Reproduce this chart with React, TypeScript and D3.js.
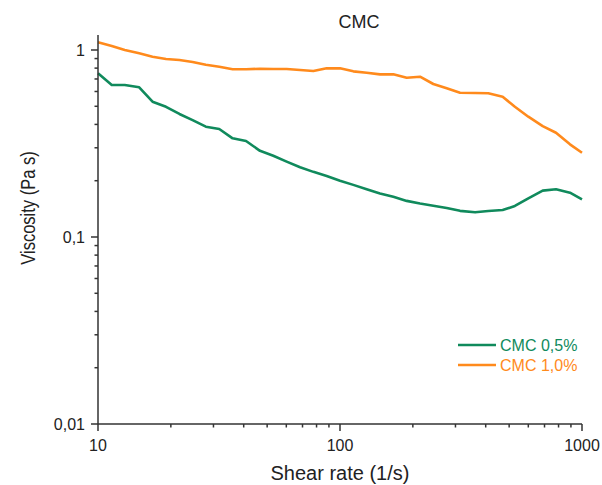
import React from "react";
import * as d3 from "d3";

const shearRate = [10, 11.4, 12.9, 14.8, 16.8, 19.1, 21.7, 24.6, 27.9, 31.7, 36.0, 40.9, 46.7, 53.0, 60.2, 68.4, 77.6, 88.1, 100, 113.5, 128.9, 146.3, 166.1, 188.6, 214.1, 243.0, 276.0, 313.3, 361.5, 410, 470, 528, 600, 688, 781, 892, 1000];

const cmc05 = [0.750, 0.650, 0.650, 0.632, 0.529, 0.497, 0.455, 0.422, 0.389, 0.378, 0.337, 0.326, 0.289, 0.272, 0.253, 0.236, 0.223, 0.212, 0.200, 0.190, 0.180, 0.171, 0.164, 0.156, 0.151, 0.147, 0.143, 0.138, 0.1355, 0.1377, 0.1394, 0.1465, 0.161, 0.177, 0.180, 0.1725, 0.159];

const cmc10 = [1.099, 1.05, 1.0, 0.960, 0.921, 0.895, 0.884, 0.863, 0.834, 0.814, 0.789, 0.789, 0.794, 0.791, 0.791, 0.782, 0.772, 0.798, 0.798, 0.769, 0.756, 0.741, 0.741, 0.711, 0.720, 0.658, 0.624, 0.591, 0.589, 0.587, 0.563, 0.497, 0.440, 0.392, 0.361, 0.313, 0.282];

const seriesNames = ["CMC 0,5%", "CMC 1,0%"];
const seriesColors = ["#108a5c", "#ff8a1c"];
const xMajorTicks = [10, 100, 1000];
const xTickLabels = ["10", "100", "1000"];
const yMajorTicks = [0.01, 0.1, 1];
const yTickLabels = ["0,01", "0,1", "1"];
const chartTitle = "CMC";
const xTitle = "Shear rate (1/s)";
const yTitle = "Viscosity (Pa s)";

const W = 602;
const H = 485;

export default function App() {
  const x = d3.scaleLog().domain([10, 1000]).range([98, 582]);
  const y = d3.scaleLog().domain([0.01, 1]).range([424, 50]);
  const yTop = 35;
  const axisColor = "#333";
  const font = "Arial, 'Liberation Sans', sans-serif";

  const xMinor: number[] = [];
  for (const d of [10, 100]) for (let k = 2; k <= 9; k++) xMinor.push(d * k);
  const yMinor: number[] = [];
  for (const d of [0.01, 0.1]) for (let k = 2; k <= 9; k++) yMinor.push(d * k);

  const line = d3
    .line<number>()
    .x((_, i) => x(shearRate[i]))
    .y((v) => y(v));

  const series = [cmc05, cmc10];

  return (
    <svg
      width={W}
      height={H}
      style={{ position: "absolute", left: 0, top: 0, background: "#fff" }}
      fontFamily={font}
    >
      <rect x={0} y={0} width={W} height={H} fill="#fff" />
      <text x={359} y={28} textAnchor="middle" fontSize={18} fill="#222">
        {chartTitle}
      </text>

      {series.map((s, i) => (
        <path
          key={i}
          d={line(s) || ""}
          fill="none"
          stroke={seriesColors[i]}
          strokeWidth={2.6}
          strokeLinejoin="round"
        />
      ))}

      <line x1={98} x2={98} y1={yTop} y2={y(0.01)} stroke={axisColor} strokeWidth={1.5} />
      <line x1={98} x2={x(1000)} y1={424} y2={424} stroke={axisColor} strokeWidth={1.5} />

      {yMajorTicks.map((t, i) => (
        <g key={"ym" + i}>
          <line x1={91} x2={98} y1={y(t)} y2={y(t)} stroke={axisColor} strokeWidth={1.5} />
          <text x={85} y={y(t)} dy="0.35em" textAnchor="end" fontSize={16} fill="#222">
            {yTickLabels[i]}
          </text>
        </g>
      ))}
      {yMinor.map((t, i) => (
        <line key={"yn" + i} x1={94.5} x2={98} y1={y(t)} y2={y(t)} stroke={axisColor} strokeWidth={1.5} />
      ))}

      {xMajorTicks.map((t, i) => (
        <g key={"xm" + i}>
          <line x1={x(t)} x2={x(t)} y1={424} y2={431} stroke={axisColor} strokeWidth={1.5} />
          <text x={x(t)} y={451} textAnchor="middle" fontSize={16} fill="#222">
            {xTickLabels[i]}
          </text>
        </g>
      ))}
      {xMinor.map((t, i) => (
        <line key={"xn" + i} x1={x(t)} x2={x(t)} y1={424} y2={427.5} stroke={axisColor} strokeWidth={1.5} />
      ))}

      <text x={340} y={480} textAnchor="middle" fontSize={20} fill="#222">
        {xTitle}
      </text>
      <text
        transform={`translate(35,208) scale(1.2,1) rotate(-90)`}
        textAnchor="middle"
        fontSize={16.5}
        fill="#222"
      >
        {yTitle}
      </text>

      {seriesNames.map((n, i) => (
        <g key={"lg" + i} transform={`translate(458,${345 + i * 20})`}>
          <line x1={0} x2={38} y1={0} y2={0} stroke={seriesColors[i]} strokeWidth={2.6} />
          <text x={42} y={0} dy="0.35em" fontSize={16} fill={seriesColors[i]}>
            {n}
          </text>
        </g>
      ))}
    </svg>
  );
}
